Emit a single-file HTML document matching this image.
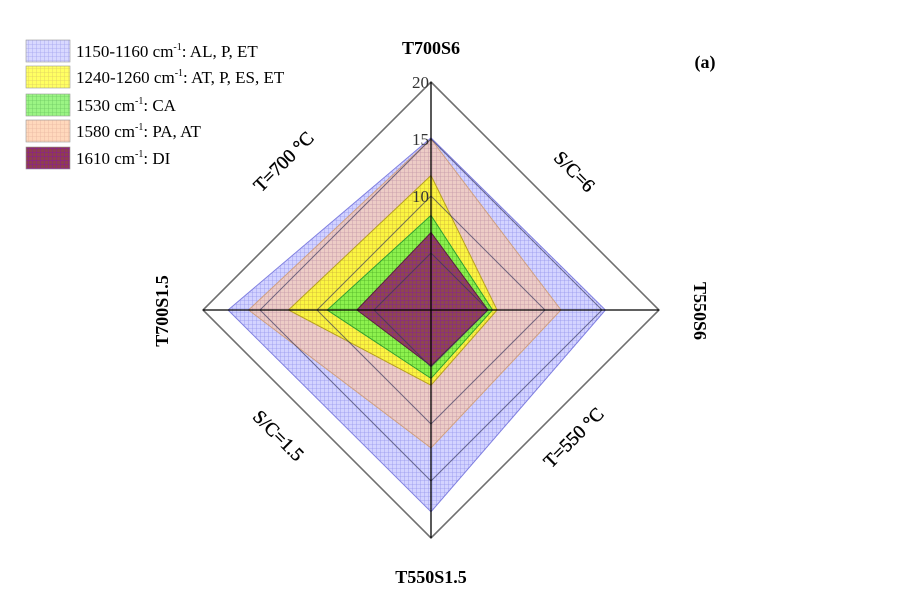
<!DOCTYPE html>
<html><head><meta charset="utf-8"><style>
body{margin:0;background:#fff;}
svg{display:block;font-family:"Liberation Serif",serif;}
</style></head><body>
<svg width="900" height="599" viewBox="0 0 900 599">
<defs>
<pattern id="pBlue" width="4" height="4" patternUnits="userSpaceOnUse"><rect width="4" height="4" fill="#c8c8ff"/><path d="M0 0H4M0 0V4" stroke="#7a7ae8" stroke-width="0.8"/></pattern>
<pattern id="pYel" width="4" height="4" patternUnits="userSpaceOnUse"><rect width="4" height="4" fill="#ffff20"/><path d="M0 0H4M0 0V4" stroke="#d0b820" stroke-width="0.8"/></pattern>
<pattern id="pGrn" width="4" height="4" patternUnits="userSpaceOnUse"><rect width="4" height="4" fill="#70f050"/><path d="M0 0H4M0 0V4" stroke="#30b020" stroke-width="0.8"/></pattern>
<pattern id="pPch" width="4" height="4" patternUnits="userSpaceOnUse"><rect width="4" height="4" fill="#ffc8a0"/><path d="M0 0H4M0 0V4" stroke="#e09878" stroke-width="0.8"/></pattern>
<pattern id="pPur" width="4" height="4" patternUnits="userSpaceOnUse"><rect width="4" height="4" fill="#8e3e50"/><path d="M0 0H4M0 0V4" stroke="#8a1a9a" stroke-width="0.9"/></pattern>
</defs>
<g id="series"></g>
<g id="grid"></g>
<g id="legend"></g>
<text x="431" y="54" text-anchor="middle" font-weight="bold" font-size="18">T700S6</text>
<text x="0" y="0" transform="translate(694,311) rotate(90)" text-anchor="middle" font-weight="bold" font-size="18">T550S6</text>
<text x="431" y="583" text-anchor="middle" font-weight="bold" font-size="18">T550S1.5</text>
<text x="0" y="0" transform="translate(168,311) rotate(-90)" text-anchor="middle" font-weight="bold" font-size="18">T700S1.5</text>
<text transform="translate(288,166) rotate(-45)" text-anchor="middle" font-size="19" stroke="#000" stroke-width="0.4">T=700 °C</text>
<text transform="translate(570,176) rotate(45)" text-anchor="middle" font-size="19" stroke="#000" stroke-width="0.4">S/C=6</text>
<text transform="translate(578,442) rotate(-45)" text-anchor="middle" font-size="19" stroke="#000" stroke-width="0.4">T=550 °C</text>
<text transform="translate(274,440) rotate(45)" text-anchor="middle" font-size="19" stroke="#000" stroke-width="0.4">S/C=1.5</text>
<text x="705" y="68" text-anchor="middle" font-weight="bold" font-size="18">(a)</text>
</svg>
<script>
const axes=["T700S6","T550S6","T550S1.5","T700S1.5"];
const ticks=[5,10,15,20];
const tickLabels=["10","15","20"];
const s1150=[15.1,15.3,17.7,17.8];
const s1580=[15.0,11.4,12.1,16.0];
const s1240=[11.8,5.8,6.6,12.5];
const s1530=[8.3,5.4,6.0,9.1];
const s1610=[6.8,5.0,4.9,6.5];
const legendNames=["1150-1160","1240-1260","1530","1580","1610"];
const legendSuffix=[": AL, P, ET",": AT, P, ES, ET",": CA",": PA, AT",": DI"];
const NS="http://www.w3.org/2000/svg";
const cx=431,cy=310,R=228,maxV=20;
const ang=[-Math.PI/2,0,Math.PI/2,Math.PI];
function pt(i,v){const r=v/maxV*R;return [cx+r*Math.cos(ang[i]),cy+r*Math.sin(ang[i])];}
function poly(vals){return vals.map((v,i)=>pt(i,v).join(",")).join(" ");}
const sg=document.getElementById("series");
const series=[[s1150,"pBlue","#8080e0","series-1150",0.8],[s1580,"pPch","#d0a080","series-1580",0.6],[s1240,"pYel","#b8a020","series-1240",0.8],[s1530,"pGrn","#30a030","series-1530",0.8],[s1610,"pPur","#5a2040","series-1610",0.95]];
series.forEach(s=>{const p=document.createElementNS(NS,"polygon");p.setAttribute("points",poly(s[0]));p.setAttribute("fill","url(#"+s[1]+")");p.setAttribute("fill-opacity",s[4]);p.setAttribute("stroke",s[2]);p.setAttribute("stroke-width","1");


sg.appendChild(p);});
const gg=document.getElementById("grid");
ticks.forEach(t=>{const p=document.createElementNS(NS,"polygon");p.setAttribute("points",poly([t,t,t,t]));p.setAttribute("fill","none");p.setAttribute("stroke",t===maxV?"#707070":"rgba(50,50,90,0.65)");p.setAttribute("stroke-width",t===maxV?"1.6":"1");


gg.appendChild(p);});
axes.forEach((a,i)=>{const e=pt(i,maxV);const l=document.createElementNS(NS,"line");l.setAttribute("x1",cx);l.setAttribute("y1",cy);l.setAttribute("x2",e[0]);l.setAttribute("y2",e[1]);l.setAttribute("stroke","#000");l.setAttribute("stroke-width","1.3");


gg.appendChild(l);});
tickLabels.forEach(t=>{const p=pt(0,+t);const tx=document.createElementNS(NS,"text");tx.setAttribute("x",p[0]-2);tx.setAttribute("y",p[1]+6);tx.setAttribute("text-anchor","end");tx.setAttribute("font-size","17");tx.setAttribute("fill","#333");tx.textContent=t;


gg.appendChild(tx);});
const lg=document.getElementById("legend");
const lp=["pBlue","pYel","pGrn","pPch","pPur"];
const ly=[51,77,105,131,158];
legendNames.forEach((n,i)=>{const r=document.createElementNS(NS,"rect");r.setAttribute("x",26);r.setAttribute("y",ly[i]-11);r.setAttribute("width",44);r.setAttribute("height",22);r.setAttribute("fill","url(#"+lp[i]+")");r.setAttribute("fill-opacity",i===4?"1":"0.7");r.setAttribute("stroke","#999");r.setAttribute("stroke-width","0.6");


lg.appendChild(r);
const t=document.createElementNS(NS,"text");t.setAttribute("x",76);t.setAttribute("y",ly[i]+6);t.setAttribute("font-size","17");
t.innerHTML=n+' cm<tspan font-size="10" dy="-7">-1</tspan><tspan dy="7">'+legendSuffix[i]+'</tspan>';


lg.appendChild(t);});
</script>
</body></html>
